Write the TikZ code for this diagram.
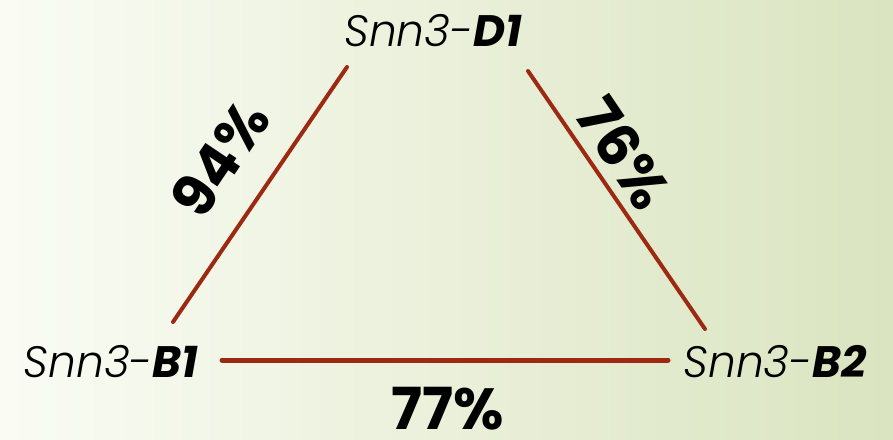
\documentclass[tikz,border=0pt]{standalone}
\usepackage{fontspec}
\setmainfont{Poppins}[ItalicFont={Poppins Italic},BoldFont={Poppins Bold},BoldItalicFont={Poppins Bold Italic}]
\newfontfamily\genefont{Poppins Light}[ItalicFont={Poppins Light Italic},BoldFont={Poppins Bold},BoldItalicFont={Poppins Bold Italic}]
\definecolor{edgecol}{HTML}{9C2A12}
\definecolor{bgleft}{HTML}{FAFCF4}
\definecolor{bgright}{HTML}{DAE4C0}
\begin{document}
\begin{tikzpicture}[x=1pt,y=1pt,
  gene/.style={inner sep=0pt,anchor=base,font=\genefont\fontsize{44}{44}\selectfont\itshape},
  pct/.style={inner sep=0pt,font=\fontsize{58}{58}\selectfont\bfseries},
  edge/.style={draw=edgecol,line width=4pt,line cap=round}]
\shade[left color=bgleft,right color=bgright] (0,0) rectangle (893,439);
\useasboundingbox (0,0) rectangle (893,439);
\node[gene] (d1) at (433,392) {Snn3-\textbf{D1}};
\node[gene] (b1) at (111,62) {Snn3-\textbf{B1}};
\node[gene] (b2) at (775,62) {Snn3-\textbf{B2}};
\coordinate (l1) at (173,117);
\coordinate (l2) at (347,372);
\coordinate (r1) at (528,368);
\coordinate (r2) at (705,110);
\coordinate (h1) at (222,79);
\coordinate (h2) at (668,79);
\draw[edge] (l1) -- (l2);
\draw[edge] (r1) -- (r2);
\draw[edge,line width=5pt] (h1) -- (h2);
\node[pct,rotate=56] (p1) at (220,280) {94\%};
\node[pct,rotate=-56] (p2) at (624,286) {76\%};
\node[pct] (p3) at (448,30) {77\%};
\end{tikzpicture}
\end{document}
